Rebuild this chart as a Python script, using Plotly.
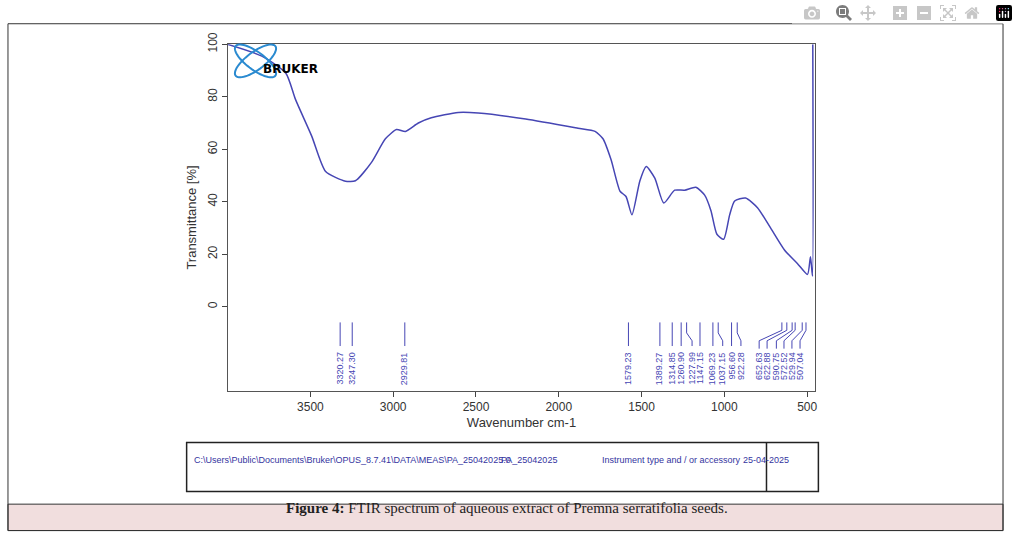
import numpy as np
import plotly.graph_objects as go

# spectrum
wavenumber = [4000, 3793, 3648, 3590, 3492, 3408, 3288, 3228, 3131, 3047, 2980, 2926,
              2848, 2770, 2607, 2487, 2200, 1884, 1781, 1733, 1684, 1630, 1594, 1558,
              1510, 1472, 1420, 1366, 1300, 1240, 1172, 1119, 1081, 1045, 1004, 968,
              938, 872, 800, 721, 637, 558, 498, 480, 468, 466]
transmittance = [100, 95.5, 89, 79, 65, 51.5, 47.8, 48, 55, 64, 67.5, 66.8,
                 70, 72, 74, 73.8, 71.5, 68, 66.8, 64, 56, 44, 42, 35,
                 48, 53.4, 49, 39.5, 44.4, 44.4, 45.5, 42.5, 36.6, 27.6, 25.7, 35,
                 40.3, 41.4, 37.7, 30, 21.6, 16.4, 12.3, 19, 11.6, 100]

peaks = [3320.27, 3247.30, 2929.81, 1579.23, 1389.27, 1314.85, 1260.90, 1227.99,
         1147.15, 1069.23, 1037.15, 956.60, 922.28, 652.63, 622.88, 590.75,
         572.52, 529.94, 507.04]
# where the label sits, when it is moved aside from a crowded peak
label_pos = [3320.27, 3247.30, 2929.81, 1579.23, 1389.27, 1314.85, 1260.90, 1195,
             1147.15, 1069.23, 1010, 956.60, 900, 790, 742, 686, 640, 592, 543]

BLUE = "#4646b4"
fig = go.Figure()
fig.add_trace(go.Scatter(x=wavenumber, y=transmittance, mode="lines",
                         line=dict(color=BLUE, width=1.5, shape="spline", smoothing=0.6),
                         hoverinfo="skip"))

for p, lp in zip(peaks, label_pos):
    if abs(p - lp) < 1:
        xs, ys = [p, p], [-6, -15]
    elif p < 700:
        xs, ys = [p, p, lp, lp], [-6, -9, -13, -16]
    else:
        xs, ys = [p, p, lp, lp], [-6, -10, -13, -15]
    fig.add_trace(go.Scatter(x=xs, y=ys, mode="lines", line=dict(color=BLUE, width=1),
                             hoverinfo="skip"))
    fig.add_annotation(x=lp, y=-16.5, text=f"{p:.2f}", textangle=-90, showarrow=False,
                       yanchor="top", font=dict(size=9, color=BLUE, family="Liberation Sans"))

fig.update_xaxes(range=[4000, 450], tickvals=[3500, 3000, 2500, 2000, 1500, 1000, 500],
                 showline=True, linecolor="#555", mirror=True, ticks="outside",
                 showgrid=False, zeroline=False, domain=[0.224, 0.8026],
                 title=dict(text="Wavenumber cm-1", standoff=4),
                 tickfont=dict(size=12, color="#333"))
fig.update_yaxes(range=[-32, 100], tickvals=[0, 20, 40, 60, 80, 100], tickangle=-90,
                 showline=True, linecolor="#555", mirror=True, ticks="outside",
                 showgrid=False, zeroline=False, domain=[0.304, 0.9406],
                 title=dict(text="Transmittance [%]", standoff=6),
                 tickfont=dict(size=12, color="#333"))

W, H = 1018, 556
def px(x, y):
    return x / W, 1 - y / H

shapes = []
def rect(x0, y0, x1, y1, **kw):
    a, b = px(x0, y0)
    c, d = px(x1, y1)
    shapes.append(dict(type="rect", xref="paper", yref="paper", x0=a, y0=d, x1=c, y1=b, **kw))

rect(8, 12, 1005, 530, line=dict(color="#333", width=1))
rect(187, 440, 820, 490, line=dict(color="#222", width=1.5))
shapes.append(dict(type="line", xref="paper", yref="paper", x0=768 / W, x1=768 / W,
                   y0=1 - 440 / H, y1=1 - 490 / H, line=dict(color="#222", width=1.5)))
rect(8, 503, 1005, 530, line=dict(color="#333", width=1), fillcolor="#f1dede", layer="below")

# Bruker logo ellipses
t = np.linspace(0, 2 * np.pi, 60)
for ang in (0.65, -0.65):
    ex = 256 + 25 * np.cos(t) * np.cos(ang) - 9 * np.sin(t) * np.sin(ang)
    ey = 50 + 25 * np.cos(t) * np.sin(ang) + 9 * np.sin(t) * np.cos(ang)
    path = "M " + " L ".join(f"{x / W:.5f},{1 - y / H:.5f}" for x, y in zip(ex, ey)) + " Z"
    shapes.append(dict(type="path", xref="paper", yref="paper", path=path,
                       line=dict(color="#2a8ad0", width=2)))
fig.update_layout(shapes=shapes)

def note(x, y, text, **kw):
    a, b = px(x, y)
    fig.add_annotation(xref="paper", yref="paper", x=a, y=b, text=text, showarrow=False, **kw)

note(262, 49, "<b>BRUKER</b>", font=dict(size=12, color="black", family="DejaVu Sans"))
foot = dict(size=9, color="#3434a0", family="Liberation Sans")
note(192, 465, "C:\\Users\\Public\\Documents\\Bruker\\OPUS_8.7.41\\DATA\\MEAS\\PA_25042025.0",
     xanchor="left", font=foot)
note(530, 465, "PA_25042025", font=foot)
note(673, 465, "Instrument type and / or accessory", font=foot)
note(793, 465, "25-04-2025", font=foot)
note(508, 517, "<b>Figure 4:</b> FTIR spectrum of aqueous extract of Premna serratifolia seeds.",
     font=dict(size=15, color="#222", family="Liberation Serif"))

fig.update_layout(width=W, height=H, margin=dict(l=0, r=0, t=0, b=0), showlegend=False,
                  paper_bgcolor="white", plot_bgcolor="white",
                  font=dict(family="Liberation Sans", size=11, color="#333"))
fig.write_html("out.html", post_script="document.body.style.margin='0';")
